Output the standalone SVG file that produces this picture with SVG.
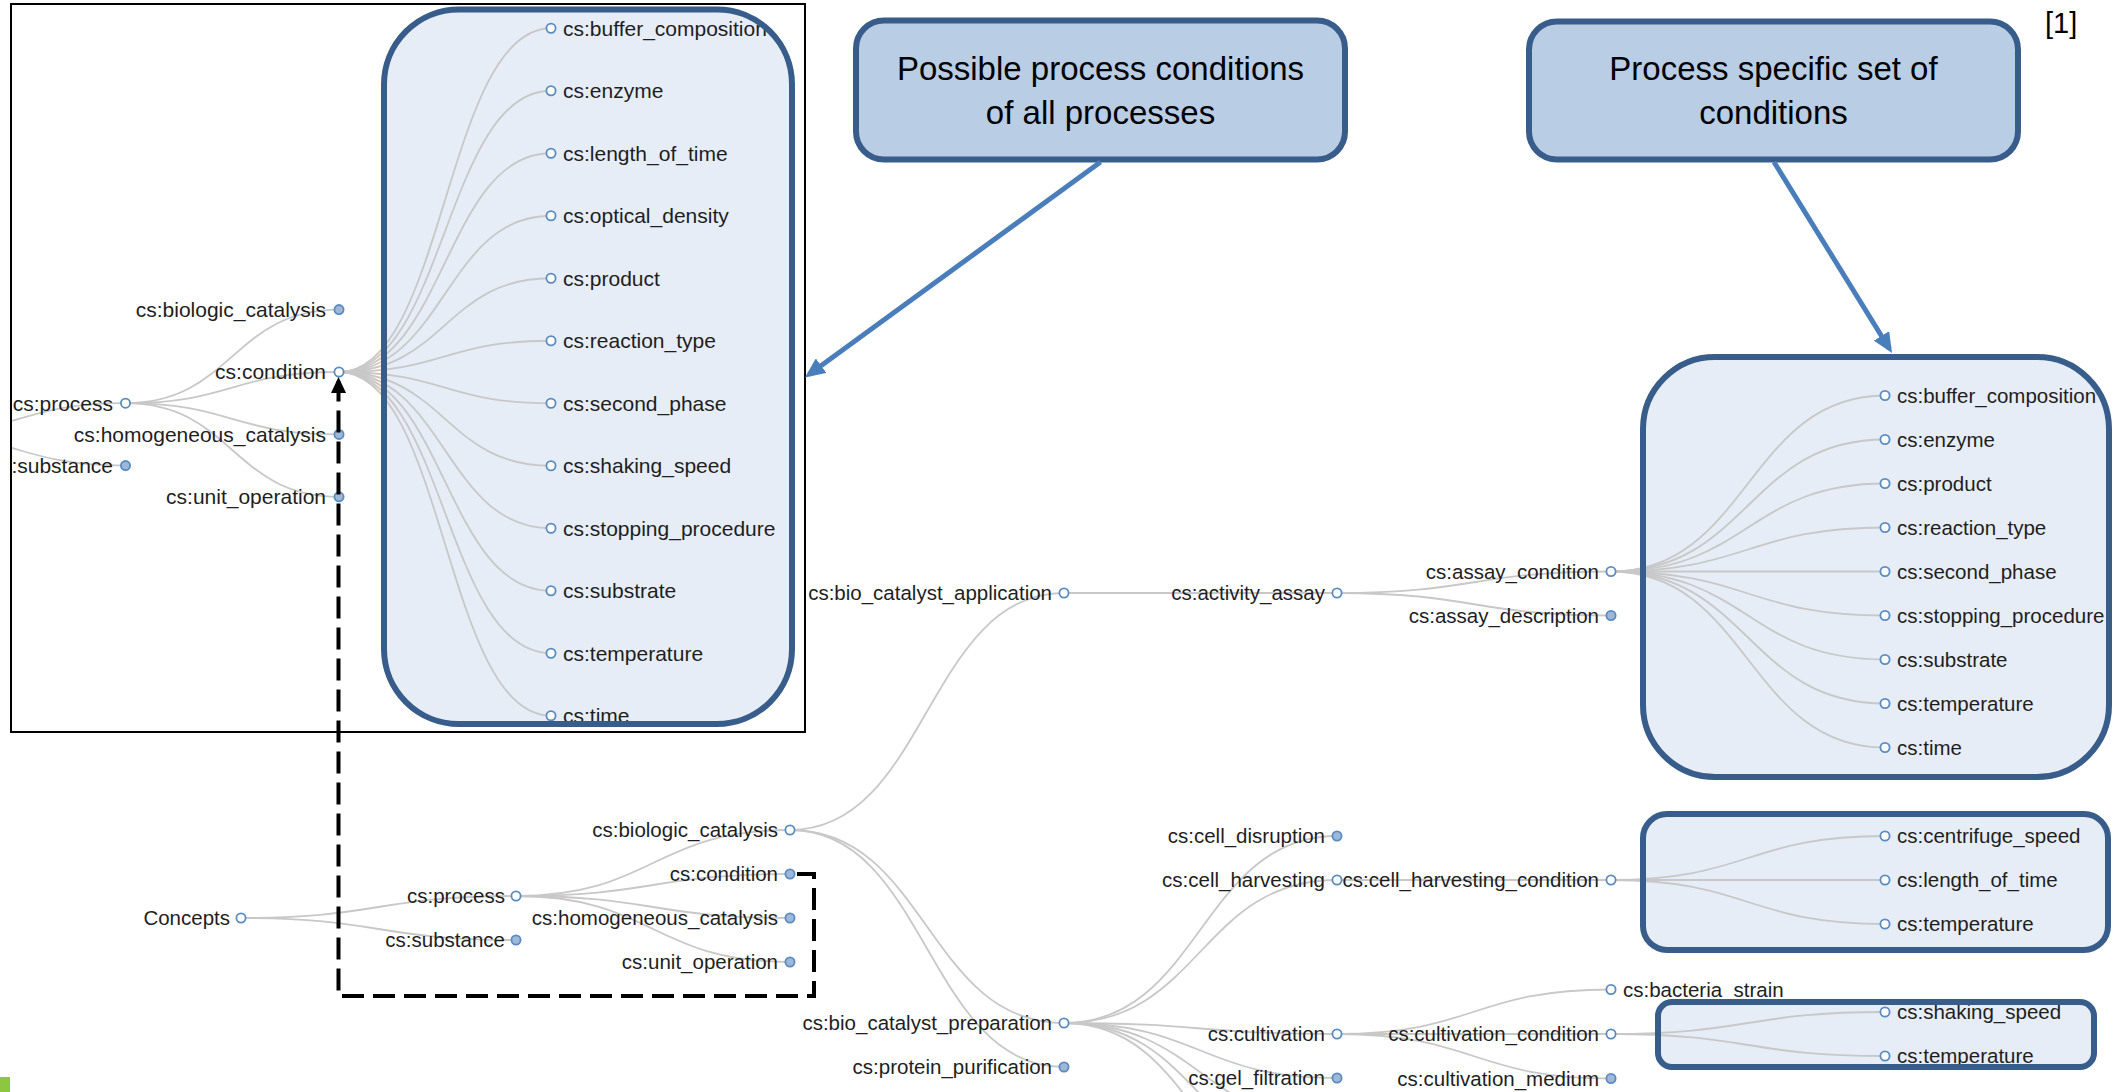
<svg xmlns="http://www.w3.org/2000/svg" width="2114" height="1092" viewBox="0 0 2114 1092">
  <style>
    .link { fill: none; stroke: #c8c8c8; stroke-width: 1.8; }
    .node circle { fill: #fff; stroke: #5a8cc2; stroke-width: 1.8; }
    .node.collapsed circle { fill: #9fb8d8; }
    .node text { font-family: "Liberation Sans", Arial, sans-serif; font-size: 20.5px; fill: #1e1e1e; }
    .inset .node text { font-size: 21px; }
    .node.l text { text-anchor: end; }
    .node.r text { text-anchor: start; }
    .hl-fill { fill: #e6edf6; stroke: none; }
    .hl-edge { fill: none; stroke: #385d8a; stroke-width: 6; }
    .callout rect { fill: #b9cde5; stroke: #385d8a; stroke-width: 6; }
    .callout text { font-family: "Liberation Sans", Arial, sans-serif; font-size: 33px; fill: #000; text-anchor: middle; }
    .pointer { fill: none; stroke: #4a7ebb; stroke-width: 5; }
    .backref { fill: none; stroke: #000; stroke-width: 4; stroke-dasharray: 22 9; }
  </style>
  <defs>
    <marker id="blue-head" markerUnits="userSpaceOnUse" markerWidth="20" markerHeight="18" viewBox="0 0 20 18" refX="15" refY="9" orient="auto">
      <path d="M0,0 L20,9 L0,18 z" fill="#4a7ebb"/>
    </marker>
    <marker id="black-head" markerUnits="userSpaceOnUse" markerWidth="16" markerHeight="15" viewBox="0 0 16 15" refX="12" refY="7.5" orient="auto">
      <path d="M0,0 L16,7.5 L0,15 z" fill="#000"/>
    </marker>
    <clipPath id="inset-clip">
      <rect x="11" y="4" width="794" height="728"/>
    </clipPath>
  </defs>

  <rect width="2114" height="1092" fill="#fff"/>

  <!-- Enlarged view of the process / condition branch -->
  <g class="inset" clip-path="url(#inset-clip)">
    <rect id="inset-box-fill" class="hl-fill" x="384" y="9.5" width="408" height="714.5" rx="75"/>
    <g id="inset-connectors">
      <path class="link" d="M-88,434.4C18.75,434.4 18.75,403.2 125.5,403.2"/>
      <path class="link" d="M-88,434.4C18.75,434.4 18.75,465.6 125.5,465.6"/>
      <path class="link" d="M125.5,403.2C232.25,403.2 232.25,309.6 339,309.6"/>
      <path class="link" d="M125.5,403.2C232.25,403.2 232.25,372 339,372"/>
      <path class="link" d="M125.5,403.2C232.25,403.2 232.25,434.4 339,434.4"/>
      <path class="link" d="M125.5,403.2C232.25,403.2 232.25,496.8 339,496.8"/>
      <path class="link" d="M339,372C445,372 445,28.25 551,28.25"/>
      <path class="link" d="M339,372C445,372 445,90.75 551,90.75"/>
      <path class="link" d="M339,372C445,372 445,153.25 551,153.25"/>
      <path class="link" d="M339,372C445,372 445,215.75 551,215.75"/>
      <path class="link" d="M339,372C445,372 445,278.25 551,278.25"/>
      <path class="link" d="M339,372C445,372 445,340.75 551,340.75"/>
      <path class="link" d="M339,372C445,372 445,403.25 551,403.25"/>
      <path class="link" d="M339,372C445,372 445,465.75 551,465.75"/>
      <path class="link" d="M339,372C445,372 445,528.25 551,528.25"/>
      <path class="link" d="M339,372C445,372 445,590.75 551,590.75"/>
      <path class="link" d="M339,372C445,372 445,653.25 551,653.25"/>
      <path class="link" d="M339,372C445,372 445,715.75 551,715.75"/>
    </g>
    <g id="i-process" class="node l"><circle cx="125.5" cy="403.2" r="4.6"/><text x="113" y="403.2" dy=".35em">cs:process</text></g>
    <g id="i-substance" class="node l collapsed"><circle cx="125.5" cy="465.6" r="4.6"/><text x="113" y="465.6" dy=".35em">cs:substance</text></g>
    <g id="i-biologic-catalysis" class="node l collapsed"><circle cx="339" cy="309.6" r="4.6"/><text x="326" y="309.6" dy=".35em">cs:biologic_catalysis</text></g>
    <g id="i-condition" class="node l"><circle cx="339" cy="372" r="4.6"/><text x="326" y="372" dy=".35em">cs:condition</text></g>
    <g id="i-homogeneous-catalysis" class="node l collapsed"><circle cx="339" cy="434.4" r="4.6"/><text x="326" y="434.4" dy=".35em">cs:homogeneous_catalysis</text></g>
    <g id="i-unit-operation" class="node l collapsed"><circle cx="339" cy="496.8" r="4.6"/><text x="326" y="496.8" dy=".35em">cs:unit_operation</text></g>
    <g id="i-buffer-composition" class="node r"><circle cx="551" cy="28.25" r="4.6"/><text x="563" y="28.25" dy=".35em">cs:buffer_composition</text></g>
    <g id="i-enzyme" class="node r"><circle cx="551" cy="90.75" r="4.6"/><text x="563" y="90.75" dy=".35em">cs:enzyme</text></g>
    <g id="i-length-of-time" class="node r"><circle cx="551" cy="153.25" r="4.6"/><text x="563" y="153.25" dy=".35em">cs:length_of_time</text></g>
    <g id="i-optical-density" class="node r"><circle cx="551" cy="215.75" r="4.6"/><text x="563" y="215.75" dy=".35em">cs:optical_density</text></g>
    <g id="i-product" class="node r"><circle cx="551" cy="278.25" r="4.6"/><text x="563" y="278.25" dy=".35em">cs:product</text></g>
    <g id="i-reaction-type" class="node r"><circle cx="551" cy="340.75" r="4.6"/><text x="563" y="340.75" dy=".35em">cs:reaction_type</text></g>
    <g id="i-second-phase" class="node r"><circle cx="551" cy="403.25" r="4.6"/><text x="563" y="403.25" dy=".35em">cs:second_phase</text></g>
    <g id="i-shaking-speed" class="node r"><circle cx="551" cy="465.75" r="4.6"/><text x="563" y="465.75" dy=".35em">cs:shaking_speed</text></g>
    <g id="i-stopping-procedure" class="node r"><circle cx="551" cy="528.25" r="4.6"/><text x="563" y="528.25" dy=".35em">cs:stopping_procedure</text></g>
    <g id="i-substrate" class="node r"><circle cx="551" cy="590.75" r="4.6"/><text x="563" y="590.75" dy=".35em">cs:substrate</text></g>
    <g id="i-temperature" class="node r"><circle cx="551" cy="653.25" r="4.6"/><text x="563" y="653.25" dy=".35em">cs:temperature</text></g>
    <g id="i-time" class="node r"><circle cx="551" cy="715.75" r="4.6"/><text x="563" y="715.75" dy=".35em">cs:time</text></g>
    <rect id="inset-box" class="hl-edge" x="384" y="9.5" width="408" height="714.5" rx="75"/>
  </g>
  <rect id="inset-frame" x="11" y="4" width="794" height="728" fill="none" stroke="#000" stroke-width="2"/>

  <!-- Highlight boxes behind the main tree -->
  <rect id="assay-box-fill" class="hl-fill" x="1643" y="357" width="466" height="420" rx="72"/>
  <rect id="harvest-box-fill" class="hl-fill" x="1643" y="814" width="465" height="136" rx="24"/>
  <rect id="cultivation-box-fill" class="hl-fill" x="1658" y="1002" width="436" height="65" rx="14"/>

  <!-- Main concept tree -->
  <g id="connectors">
    <path class="link" d="M241,918C378.5,918 378.5,896 516,896"/>
    <path class="link" d="M241,918C378.5,918 378.5,940 516,940"/>
    <path class="link" d="M516,896C653,896 653,830 790,830"/>
    <path class="link" d="M516,896C653,896 653,874 790,874"/>
    <path class="link" d="M516,896C653,896 653,918 790,918"/>
    <path class="link" d="M516,896C653,896 653,962 790,962"/>
    <path class="link" d="M790,830C927,830 927,593 1064,593"/>
    <path class="link" d="M790,830C927,830 927,1023 1064,1023"/>
    <path class="link" d="M790,830C927,830 927,1067 1064,1067"/>
    <path class="link" d="M1064,593L1337,593"/>
    <path class="link" d="M1337,593C1474,593 1474,571.5 1611,571.5"/>
    <path class="link" d="M1337,593C1474,593 1474,615.5 1611,615.5"/>
    <path class="link" d="M1611,571.5C1748,571.5 1748,395.5 1885,395.5"/>
    <path class="link" d="M1611,571.5C1748,571.5 1748,439.5 1885,439.5"/>
    <path class="link" d="M1611,571.5C1748,571.5 1748,483.5 1885,483.5"/>
    <path class="link" d="M1611,571.5C1748,571.5 1748,527.5 1885,527.5"/>
    <path class="link" d="M1611,571.5L1885,571.5"/>
    <path class="link" d="M1611,571.5C1748,571.5 1748,615.5 1885,615.5"/>
    <path class="link" d="M1611,571.5C1748,571.5 1748,659.5 1885,659.5"/>
    <path class="link" d="M1611,571.5C1748,571.5 1748,703.5 1885,703.5"/>
    <path class="link" d="M1611,571.5C1748,571.5 1748,747.5 1885,747.5"/>
    <path class="link" d="M1064,1023C1200.5,1023 1200.5,836 1337,836"/>
    <path class="link" d="M1064,1023C1200.5,1023 1200.5,880 1337,880"/>
    <path class="link" d="M1064,1023C1200.5,1023 1200.5,1034 1337,1034"/>
    <path class="link" d="M1064,1023C1200.5,1023 1200.5,1078 1337,1078"/>
    <path class="link" d="M1064,1023C1200.5,1023 1200.5,1122 1337,1122"/>
    <path class="link" d="M1064,1023C1200.5,1023 1200.5,1166 1337,1166"/>
    <path class="link" d="M1064,1023C1200.5,1023 1200.5,1210 1337,1210"/>
    <path class="link" d="M1337,880L1611,880"/>
    <path class="link" d="M1611,880C1748,880 1748,836 1885,836"/>
    <path class="link" d="M1611,880L1885,880"/>
    <path class="link" d="M1611,880C1748,880 1748,924 1885,924"/>
    <path class="link" d="M1337,1034C1474,1034 1474,989.5 1611,989.5"/>
    <path class="link" d="M1337,1034L1611,1034"/>
    <path class="link" d="M1337,1034C1474,1034 1474,1078.5 1611,1078.5"/>
    <path class="link" d="M1611,1034C1748,1034 1748,1012 1885,1012"/>
    <path class="link" d="M1611,1034C1748,1034 1748,1056 1885,1056"/>
  </g>

  <g id="n-concepts" class="node l"><circle cx="241" cy="918" r="4.6"/><text x="230" y="918" dy=".35em">Concepts</text></g>
  <g id="n-process" class="node l"><circle cx="516" cy="896" r="4.6"/><text x="505" y="896" dy=".35em">cs:process</text></g>
  <g id="n-substance" class="node l collapsed"><circle cx="516" cy="940" r="4.6"/><text x="505" y="940" dy=".35em">cs:substance</text></g>
  <g id="n-biologic-catalysis" class="node l"><circle cx="790" cy="830" r="4.6"/><text x="778" y="830" dy=".35em">cs:biologic_catalysis</text></g>
  <g id="n-condition" class="node l collapsed"><circle cx="790" cy="874" r="4.6"/><text x="778" y="874" dy=".35em">cs:condition</text></g>
  <g id="n-homogeneous-catalysis" class="node l collapsed"><circle cx="790" cy="918" r="4.6"/><text x="778" y="918" dy=".35em">cs:homogeneous_catalysis</text></g>
  <g id="n-unit-operation" class="node l collapsed"><circle cx="790" cy="962" r="4.6"/><text x="778" y="962" dy=".35em">cs:unit_operation</text></g>
  <g id="n-bio-catalyst-application" class="node l"><circle cx="1064" cy="593" r="4.6"/><text x="1052" y="593" dy=".35em">cs:bio_catalyst_application</text></g>
  <g id="n-bio-catalyst-preparation" class="node l"><circle cx="1064" cy="1023" r="4.6"/><text x="1052" y="1023" dy=".35em">cs:bio_catalyst_preparation</text></g>
  <g id="n-protein-purification" class="node l collapsed"><circle cx="1064" cy="1067" r="4.6"/><text x="1052" y="1067" dy=".35em">cs:protein_purification</text></g>
  <g id="n-activity-assay" class="node l"><circle cx="1337" cy="593" r="4.6"/><text x="1325" y="593" dy=".35em">cs:activity_assay</text></g>
  <g id="n-assay-condition" class="node l"><circle cx="1611" cy="571.5" r="4.6"/><text x="1599" y="571.5" dy=".35em">cs:assay_condition</text></g>
  <g id="n-assay-description" class="node l collapsed"><circle cx="1611" cy="615.5" r="4.6"/><text x="1599" y="615.5" dy=".35em">cs:assay_description</text></g>
  <g id="n-assay-buffer-composition" class="node r"><circle cx="1885" cy="395.5" r="4.6"/><text x="1897" y="395.5" dy=".35em">cs:buffer_composition</text></g>
  <g id="n-assay-enzyme" class="node r"><circle cx="1885" cy="439.5" r="4.6"/><text x="1897" y="439.5" dy=".35em">cs:enzyme</text></g>
  <g id="n-assay-product" class="node r"><circle cx="1885" cy="483.5" r="4.6"/><text x="1897" y="483.5" dy=".35em">cs:product</text></g>
  <g id="n-assay-reaction-type" class="node r"><circle cx="1885" cy="527.5" r="4.6"/><text x="1897" y="527.5" dy=".35em">cs:reaction_type</text></g>
  <g id="n-assay-second-phase" class="node r"><circle cx="1885" cy="571.5" r="4.6"/><text x="1897" y="571.5" dy=".35em">cs:second_phase</text></g>
  <g id="n-assay-stopping-procedure" class="node r"><circle cx="1885" cy="615.5" r="4.6"/><text x="1897" y="615.5" dy=".35em">cs:stopping_procedure</text></g>
  <g id="n-assay-substrate" class="node r"><circle cx="1885" cy="659.5" r="4.6"/><text x="1897" y="659.5" dy=".35em">cs:substrate</text></g>
  <g id="n-assay-temperature" class="node r"><circle cx="1885" cy="703.5" r="4.6"/><text x="1897" y="703.5" dy=".35em">cs:temperature</text></g>
  <g id="n-assay-time" class="node r"><circle cx="1885" cy="747.5" r="4.6"/><text x="1897" y="747.5" dy=".35em">cs:time</text></g>
  <g id="n-cell-disruption" class="node l collapsed"><circle cx="1337" cy="836" r="4.6"/><text x="1325" y="836" dy=".35em">cs:cell_disruption</text></g>
  <g id="n-cell-harvesting" class="node l"><circle cx="1337" cy="880" r="4.6"/><text x="1325" y="880" dy=".35em">cs:cell_harvesting</text></g>
  <g id="n-cell-harvesting-condition" class="node l"><circle cx="1611" cy="880" r="4.6"/><text x="1599" y="880" dy=".35em">cs:cell_harvesting_condition</text></g>
  <g id="n-harvest-centrifuge-speed" class="node r"><circle cx="1885" cy="836" r="4.6"/><text x="1897" y="836" dy=".35em">cs:centrifuge_speed</text></g>
  <g id="n-harvest-length-of-time" class="node r"><circle cx="1885" cy="880" r="4.6"/><text x="1897" y="880" dy=".35em">cs:length_of_time</text></g>
  <g id="n-harvest-temperature" class="node r"><circle cx="1885" cy="924" r="4.6"/><text x="1897" y="924" dy=".35em">cs:temperature</text></g>
  <g id="n-cultivation" class="node l"><circle cx="1337" cy="1034" r="4.6"/><text x="1325" y="1034" dy=".35em">cs:cultivation</text></g>
  <g id="n-bacteria-strain" class="node r"><circle cx="1611" cy="989.5" r="4.6"/><text x="1623" y="989.5" dy=".35em">cs:bacteria_strain</text></g>
  <g id="n-cultivation-condition" class="node l"><circle cx="1611" cy="1034" r="4.6"/><text x="1599" y="1034" dy=".35em">cs:cultivation_condition</text></g>
  <g id="n-cultivation-medium" class="node l collapsed"><circle cx="1611" cy="1078.5" r="4.6"/><text x="1599" y="1078.5" dy=".35em">cs:cultivation_medium</text></g>
  <g id="n-cultivation-shaking-speed" class="node r"><circle cx="1885" cy="1012" r="4.6"/><text x="1897" y="1012" dy=".35em">cs:shaking_speed</text></g>
  <g id="n-cultivation-temperature" class="node r"><circle cx="1885" cy="1056" r="4.6"/><text x="1897" y="1056" dy=".35em">cs:temperature</text></g>
  <g id="n-gel-filtration" class="node l collapsed"><circle cx="1337" cy="1078" r="4.6"/><text x="1325" y="1078" dy=".35em">cs:gel_filtration</text></g>

  <!-- Highlight box outlines over the tree -->
  <rect id="assay-box" class="hl-edge" x="1643" y="357" width="466" height="420" rx="72"/>
  <rect id="harvest-box" class="hl-edge" x="1643" y="814" width="465" height="136" rx="24"/>
  <rect id="cultivation-box" class="hl-edge" x="1658" y="1002" width="436" height="65" rx="14"/>

  <!-- Callouts -->
  <g id="callout-all" class="callout">
    <rect x="856" y="20.5" width="489" height="139" rx="28"/>
    <text x="1100.5" y="80">Possible process conditions</text>
    <text x="1100.5" y="124">of all processes</text>
  </g>
  <g id="callout-specific" class="callout">
    <rect x="1529" y="21.5" width="489" height="138" rx="28"/>
    <text x="1773.5" y="80">Process specific set of</text>
    <text x="1773.5" y="124">conditions</text>
  </g>

  <g id="annotation-connectors">
    <path class="pointer" d="M1100.5,162L809,374.5" marker-end="url(#blue-head)"/>
    <path class="pointer" d="M1774,162L1889.4,348.7" marker-end="url(#blue-head)"/>
    <path class="backref" d="M797,874H814V996H338.5V381" marker-end="url(#black-head)"/>
  </g>

  <text id="ref-mark" x="2045" y="33" font-family="'Liberation Sans', Arial, sans-serif" font-size="29" fill="#000">[1]</text>
  <rect id="corner-mark" x="0" y="1077" width="10" height="15" fill="#8dc63f"/>
</svg>
